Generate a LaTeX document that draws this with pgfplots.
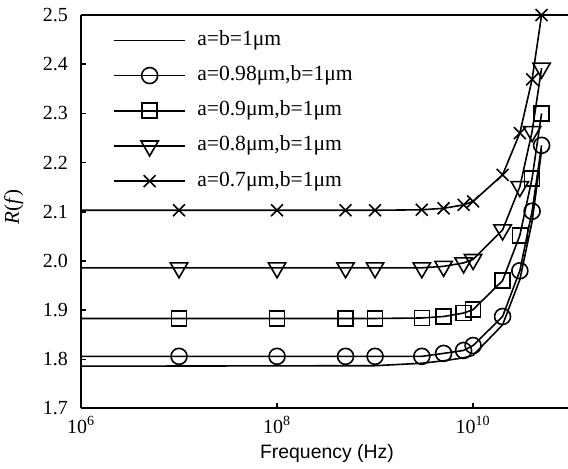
\documentclass[border=0pt]{standalone}
\usepackage{fontspec}
\setmainfont{Liberation Serif}
\newfontfamily\tnr{Liberation Serif}
\newfontfamily\arial{Liberation Sans}
\usepackage{pgfplots}
\pgfplotsset{compat=1.18}

\pgfplotsset{
  ser/.style={black, line width=0.8pt, mark indices={2,3,4,5,6,7,8,9,10,11,12,13},
    mark options={solid, fill=white, line width=0.8pt}},
}

\begin{document}
\begin{tikzpicture}
\begin{axis}[
  scale only axis, width=243.5pt, height=196.75pt,
  at={(0,0)}, anchor=south west,
  xmode=log, xmin=1e6, xmax=9.3e10,
  ymin=1.7, ymax=2.5,
  axis x line=box, axis y line=left,
  axis line style={-, line width=1pt},
  xtick pos=left, ytick pos=left,
  tick align=inside, major tick length=2.5pt,
  tick style={black, line width=0.8pt},
  xtick={1e6,1e8,1e10},
  xticklabels={{\tnr 10\textsuperscript{6}},{\tnr 10\textsuperscript{8}},{\tnr 10\textsuperscript{10}}},
  xminorticks=false,
  ytick={1.7,1.8,...,2.5},
  yticklabel={\tnr\pgfmathprintnumber[fixed, fixed zerofill, precision=1, assume math mode=true]{\tick}},
  ticklabel style={font=\tnr\fontsize{10}{11}\selectfont},
  yticklabel style={xshift=-3pt},
  xticklabel style={yshift=-0.5pt},
  xlabel={Frequency (Hz)},
  ylabel={\textit{R}(\textit{f})},
  every axis x label/.style={at={(axis description cs:0.505,0)}, yshift=-22.25pt, anchor=center, font=\arial\fontsize{9.7}{11}\selectfont},
  every axis y label/.style={at={(axis description cs:-0.138,0.513)}, rotate=90, anchor=center, font=\tnr\fontsize{10.5}{12}\selectfont},
  clip=false,
  legend image code/.code={\draw[#1, mark indices={2}] plot coordinates {(0pt,0pt) (17.9pt,0pt) (35.8pt,0pt)};},
  legend cell align=left,
  legend style={at={(axis description cs:0.065,0.962)}, anchor=north west, draw=none, fill=none,
    inner sep=0pt, row sep=7.6pt, column sep=5.5pt,
    nodes={inner sep=0pt, text height=7.5pt, text depth=2.5pt, font=\tnr\fontsize{10.8}{12}\selectfont}},
]
% a=b=1um
\addplot[black, line width=0.8pt, no marks] coordinates {
 (1e6,1.786) (1e9,1.787) (3e9,1.792) (5e9,1.797) (8e9,1.803) (1e10,1.808)
 (2e10,1.870) (3e10,1.962) (4e10,2.080) (5e10,2.225)};
\addlegendentry{a=b=1μm}
% a=0.98um
\addplot[ser, mark=o, mark size=4pt] coordinates {
 (1e6,1.806) (1e7,1.806) (1e8,1.806) (5e8,1.806) (1e9,1.806) (3e9,1.806) (5e9,1.812) (8e9,1.818) (1e10,1.828)
 (2e10,1.887) (3e10,1.980) (4e10,2.101) (5e10,2.235)};
\addlegendentry{a=0.98μm,b=1μm}
% a=0.9um
\addplot[ser, mark=square, mark size=3.75pt] coordinates {
 (1e6,1.883) (1e7,1.883) (1e8,1.883) (5e8,1.883) (1e9,1.883) (3e9,1.884) (5e9,1.887) (8e9,1.894) (1e10,1.901)
 (2e10,1.960) (3e10,2.052) (4e10,2.168) (5e10,2.300)};
\addlegendentry{a=0.9μm,b=1μm}
% a=0.8um
\addplot[ser, mark=triangle, mark size=5pt, mark options={rotate=180}] coordinates {
 (1e6,1.986) (1e7,1.986) (1e8,1.986) (5e8,1.986) (1e9,1.986) (3e9,1.986) (5e9,1.989) (8e9,1.996) (1e10,2.003)
 (2e10,2.063) (3e10,2.151) (4e10,2.263) (5e10,2.392)};
\addlegendentry{a=0.8μm,b=1μm}
% a=0.7um
\addplot[ser, mark=x, mark size=4.2pt] coordinates {
 (1e6,2.103) (1e7,2.103) (1e8,2.103) (5e8,2.103) (1e9,2.103) (3e9,2.104) (5e9,2.107) (8e9,2.114) (1e10,2.121)
 (2e10,2.175) (3e10,2.260) (4e10,2.369) (5e10,2.500)};
\addlegendentry{a=0.7μm,b=1μm}
\end{axis}
\pgfresetboundingbox
\path[use as bounding box] (-40.5pt,-30.25pt) rectangle (243.5pt,204.25pt);
\end{tikzpicture}
\end{document}
